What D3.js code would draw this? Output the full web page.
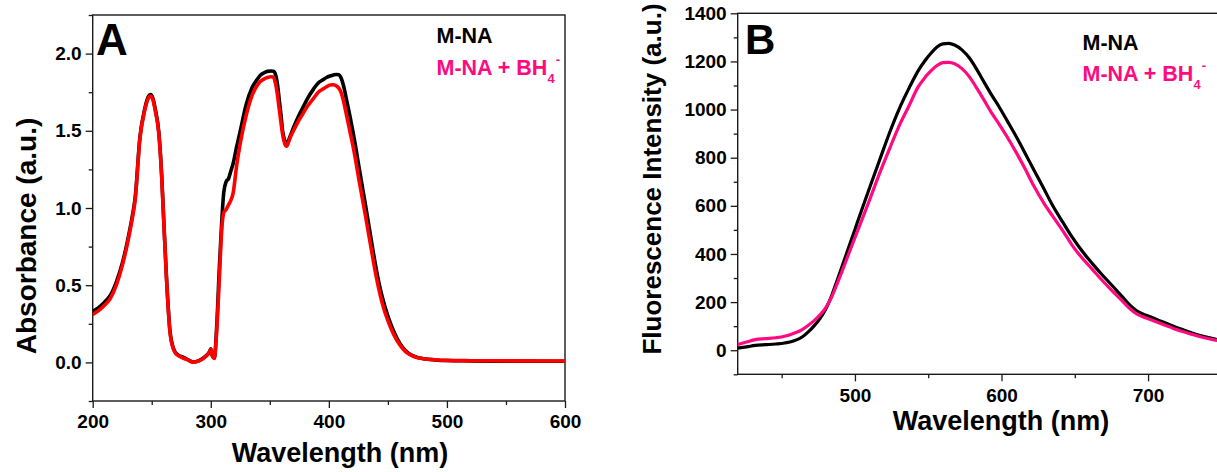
<!DOCTYPE html>
<html><head><meta charset="utf-8">
<script src="https://cdn.jsdelivr.net/npm/d3@7"></script>
<style>
body{margin:0;background:#fff;}
text{font-family:"Liberation Sans",Arial,sans-serif;font-weight:bold;}
</style></head>
<body><svg id="c" width="1217" height="472"></svg>
<script>
// ---------- Panel A data (UV-vis absorbance) ----------
const wlA = [200,205,210,215,220,225,229,233,236,240,244,247,249,251,253,256,258.5,260,262.5,265.5,268,270,273,276,280,285,290,294,297,299,300,301.5,303,305,307.3,309.2,311,313,315,317,319,322,325,330,335,339,342,345,348,351,353,355,356.5,358,359.5,361,362.5,364.3,366,368,370,374,378,382,387,391,395,398,401,404,406.5,408.5,410.5,412.5,415,418,421,426,431,436,440,445,450,455,460,465,470,475,480,490,500,520,550,600];
const absMNA = [0.33,0.355,0.39,0.435,0.52,0.64,0.77,0.925,1.07,1.46,1.64,1.72,1.735,1.71,1.64,1.49,1.2,0.95,0.55,0.2,0.1,0.065,0.045,0.035,0.02,0.003,0.012,0.03,0.05,0.07,0.088,0.04,0.028,0.23,0.62,0.9,1.1,1.17,1.19,1.24,1.29,1.4,1.5,1.67,1.78,1.83,1.86,1.875,1.885,1.887,1.885,1.86,1.8,1.7,1.6,1.49,1.44,1.41,1.44,1.48,1.52,1.59,1.65,1.71,1.77,1.81,1.83,1.845,1.855,1.862,1.865,1.863,1.84,1.79,1.7,1.59,1.47,1.245,1.02,0.79,0.61,0.43,0.3,0.2,0.125,0.075,0.047,0.032,0.024,0.016,0.012,0.01,0.008,0.007];
const absBH4 = [0.31,0.335,0.37,0.415,0.5,0.625,0.755,0.91,1.055,1.45,1.63,1.71,1.725,1.70,1.63,1.48,1.19,0.94,0.54,0.19,0.095,0.06,0.042,0.03,0.018,0.002,0.01,0.028,0.048,0.068,0.085,0.038,0.026,0.2,0.55,0.85,0.97,0.99,1.02,1.05,1.1,1.28,1.42,1.6,1.73,1.79,1.82,1.835,1.845,1.85,1.848,1.8,1.73,1.64,1.55,1.47,1.42,1.40,1.43,1.47,1.5,1.56,1.61,1.66,1.71,1.75,1.77,1.785,1.797,1.798,1.79,1.775,1.745,1.69,1.6,1.49,1.38,1.16,0.95,0.73,0.56,0.39,0.27,0.18,0.115,0.07,0.045,0.031,0.024,0.017,0.013,0.011,0.01,0.009];

// ---------- Panel B data (fluorescence) ----------
const wlB = [420,426,432,439,446,452,458,464,468,472,476,480,484,488,492,496,500,504,510,517,524,530,537,543,548,552,556,560,564,568,573,578,583,588,593,598,604,610,616,622,629,635,642,648,655,662,668,675,682,688,692,696,702,709,716,723,730,737,745,752];
const flMNA = [9,14,20,23,26,30,38,55,75,100,130,170,225,293,362,432,502,572,675,793,910,1000,1090,1160,1205,1235,1260,1273,1275,1268,1248,1215,1168,1115,1063,1015,952,888,820,750,670,600,530,472,412,360,318,272,225,185,165,152,138,120,103,87,72,59,47,38];
const flBH4 = [24,34,44,48,52,58,70,86,103,122,146,176,220,279,340,405,468,530,625,738,843,930,1017,1093,1135,1162,1183,1195,1196,1190,1170,1137,1090,1040,988,943,885,822,755,683,610,556,495,438,383,336,295,250,207,170,152,140,127,110,94,79,66,54,43,35];

// ---------- Ticks ----------
const xTicksA = [200,300,400,500,600];
const xMinorA = [250,350,450,550];
const yTicksA = [0,0.5,1.0,1.5,2.0];
const yMinorA = [-0.25,0.25,0.75,1.25,1.75,2.25];
const xTicksB = [500,600,700];
const xMinorB = [450,550,650,750];
const yTicksB = [0,200,400,600,800,1000,1200,1400];
const yMinorB = [-100,100,300,500,700,900,1100,1300];

const svg = d3.select("#c");
const AXC = "#1a1a1a";

function panel(o){
  const g = svg.append("g");
  const x = d3.scaleLinear().domain(o.xDom).range([o.left,o.right]);
  const y = d3.scaleLinear().domain(o.yDom).range([o.bottom,o.top]);
  const cid = "clip"+o.id;
  svg.append("clipPath").attr("id",cid).append("rect")
    .attr("x",o.left).attr("y",o.top).attr("width",o.right-o.left).attr("height",o.bottom-o.top);
  const xm = g.append("g").attr("transform",`translate(0,${o.bottom})`)
    .call(d3.axisBottom(x).tickValues(o.xMinor).tickSize(4).tickFormat(""));
  const ym = g.append("g").attr("transform",`translate(${o.left},0)`)
    .call(d3.axisLeft(y).tickValues(o.yMinor).tickSize(4).tickFormat(""));
  const xa = g.append("g").attr("transform",`translate(0,${o.bottom})`)
    .call(d3.axisBottom(x).tickValues(o.xTicks).tickSize(7).tickPadding(7).tickFormat(d3.format("d")));
  const ya = g.append("g").attr("transform",`translate(${o.left},0)`)
    .call(d3.axisLeft(y).tickValues(o.yTicks).tickSize(7).tickPadding(4).tickFormat(o.yFmt));
  [xm,ym,xa,ya].forEach(a=>{
    a.select(".domain").remove();
    a.selectAll("line").attr("stroke",AXC).attr("stroke-width",1.3);
    a.selectAll("text").attr("fill","#000").style("font-size","19px").style("font-family",'"Liberation Sans",Arial,sans-serif').style("font-weight","bold");
  });
  xa.selectAll("text").attr("dy","0.71em");
  g.append("rect").attr("x",o.left).attr("y",o.top).attr("width",o.right-o.left).attr("height",o.bottom-o.top)
    .attr("fill","none").attr("stroke",AXC).attr("stroke-width",1.4);
  const lg = g.append("g").attr("clip-path",`url(#${cid})`);
  o.series.forEach(s=>{
    const line = d3.line().x((d,i)=>x(o.wl[i])).y(d=>y(d)).curve(d3.curveMonotoneX);
    lg.append("path").attr("d",line(s.v)).attr("fill","none").attr("stroke",s.c)
      .attr("stroke-width",s.w).attr("stroke-linejoin","round").attr("stroke-linecap","round");
  });
  return {x,y,g};
}

panel({id:"A",left:92.7,right:565,top:15,bottom:401,xDom:[200,600],yDom:[-0.25,2.25],
  xTicks:xTicksA,xMinor:xMinorA,yTicks:yTicksA,yMinor:yMinorA,yFmt:d3.format(".1f"),wl:wlA,
  series:[{v:absMNA,c:"#000",w:3.6},{v:absBH4,c:"#ff0000",w:3.6}]});
panel({id:"B",left:737.7,right:1236,top:13.3,bottom:374.3,xDom:[420,760],yDom:[-100,1400],
  xTicks:xTicksB,xMinor:xMinorB,yTicks:yTicksB,yMinor:yMinorB,yFmt:d3.format("d"),wl:wlB,
  series:[{v:flMNA,c:"#000",w:3.2},{v:flBH4,c:"#ff0a80",w:3.2}]});

// axis titles
svg.append("text").attr("x",340).attr("y",461.5).attr("text-anchor","middle").style("font-size","27px").text("Wavelength (nm)");
svg.append("text").attr("x",1001).attr("y",430).attr("text-anchor","middle").style("font-size","27px").text("Wavelength (nm)");
svg.append("text").attr("transform","translate(36,236) rotate(-90)").attr("text-anchor","middle").style("font-size","28px").text("Absorbance (a.u.)");
svg.append("text").attr("transform","translate(661,179) rotate(-90)").attr("text-anchor","middle").style("font-size","26px").text("Fluorescence Intensity (a.u.)");

// panel letters
svg.append("text").attr("x",96).attr("y",55).style("font-size","44px").text("A");
svg.append("text").attr("x",745).attr("y",53.5).style("font-size","42px").text("B");

// legends
function legend(xp,y1,y2){
  svg.append("text").attr("x",xp).attr("y",y1).attr("fill","#000").style("font-size","21.5px").text("M-NA");
  const t = svg.append("text").attr("x",xp).attr("y",y2).attr("fill","#ff0a80").style("font-size","21.5px");
  t.append("tspan").text("M-NA + BH");
  t.append("tspan").attr("dy",8).style("font-size","13px").text("4");
  t.append("tspan").attr("dy",-19).attr("dx",1).style("font-size","13px").text("-");
}
legend(436.5,42.7,75);
legend(1082.5,50,81);
</script></body></html>
